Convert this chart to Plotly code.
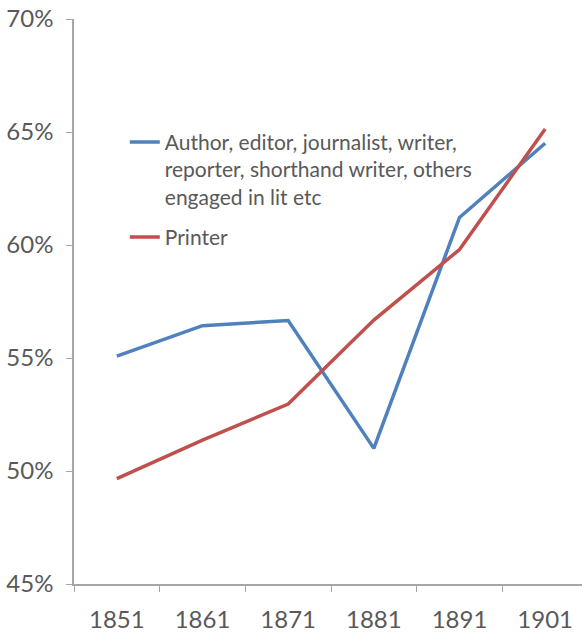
import plotly.graph_objects as go

# Census years and share (fraction) for each occupation group
years = ["1851", "1861", "1871", "1881", "1891", "1901"]
authors = [0.5508, 0.5643, 0.5666, 0.5100, 0.6122, 0.6450]
printers = [0.4966, 0.5137, 0.5296, 0.5668, 0.5980, 0.6513]

author_name = "Author, editor, journalist, writer,<br>reporter, shorthand writer, others<br>engaged in lit etc"
printer_name = "Printer"

text_color = "#595959"
axis_color = "#A6A6A6"
font_family = "Lato, 'Open Sans', sans-serif"

fig = go.Figure()
fig.add_trace(go.Scatter(x=years, y=authors, mode="lines", name=author_name,
                         legendgroup="a",
                         line=dict(color="#4F81BD", width=3.5)))
fig.add_trace(go.Scatter(x=years, y=printers, mode="lines", name=printer_name,
                         legendgroup="p",
                         line=dict(color="#C0504D", width=3.5)))

fig.update_layout(
    width=582, height=635,
    margin=dict(l=74, r=0, t=19, b=51),
    paper_bgcolor="white", plot_bgcolor="white",
    font=dict(family=font_family, color=text_color),
    showlegend=True,
    legend=dict(x=0.1, y=0.818, xanchor="left", yanchor="top",
                font=dict(size=21, color=text_color, family=font_family),
                valign="top", bgcolor="rgba(0,0,0,0)", tracegroupgap=10),
    xaxis=dict(
        type="category", range=[-0.5, 5.43],
        showline=True, linecolor=axis_color, linewidth=1.5,
        ticks="outside", tickson="boundaries", ticklen=6, tickcolor=axis_color,
        showgrid=False, zeroline=False,
        tickfont=dict(size=24, color=text_color),
        ticklabelstandoff=13,
    ),
    yaxis=dict(
        range=[0.45, 0.70], dtick=0.05, tick0=0.45, tickformat=".0%",
        showline=True, linecolor=axis_color, linewidth=1.5,
        ticks="outside", ticklen=6, tickcolor=axis_color,
        showgrid=False, zeroline=False,
        tickfont=dict(size=24, color=text_color),
        ticklabelstandoff=8,
    ),
)

fig.write_html("out.html")
